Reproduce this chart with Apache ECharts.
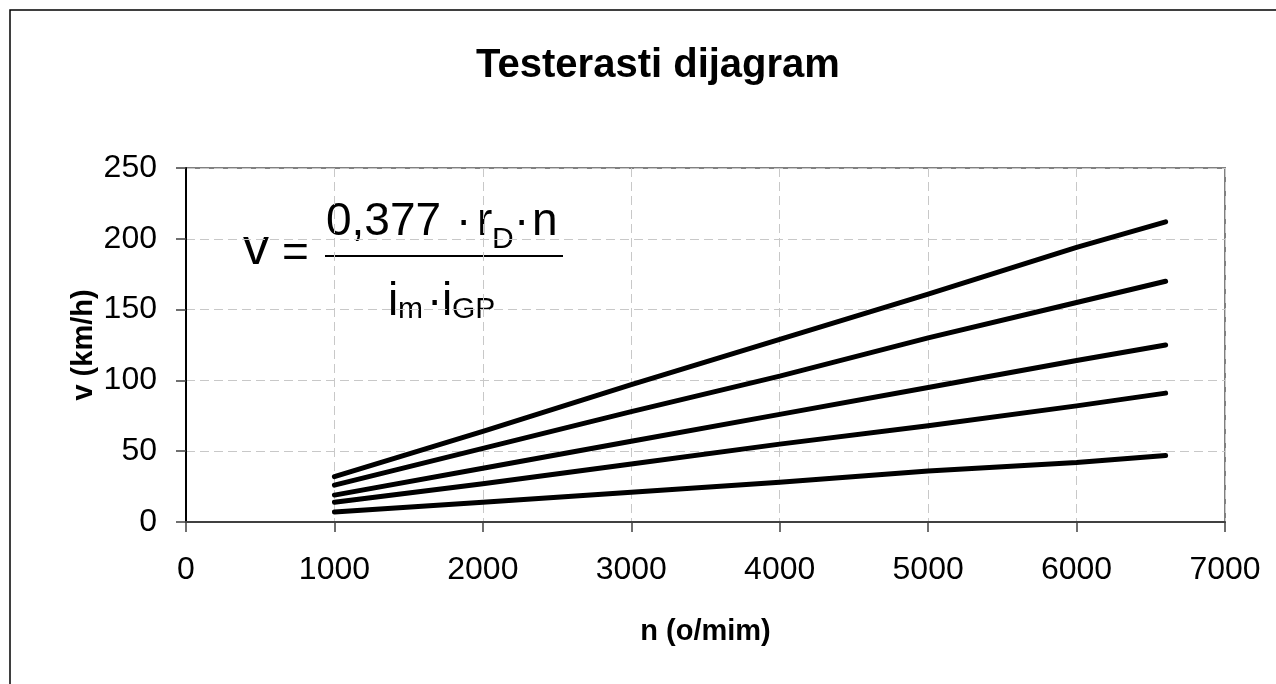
<!DOCTYPE html>
<html>
<head>
<meta charset="utf-8">
<title>Testerasti dijagram</title>
<script src="https://cdn.jsdelivr.net/npm/echarts@6/dist/echarts.min.js"></script>
<style>
  html, body { margin: 0; padding: 0; background: #fff; }
  #chart { width: 1276px; height: 684px; }
</style>
</head>
<body>
<div id="chart"></div>
<script>
// Engine speed n (o/min) at which the speeds were computed
const engineSpeed = [1000, 2000, 3000, 4000, 5000, 6000, 6600];

// Vehicle speed v (km/h) in each gear, highest gear first
const gear5 = [32, 64, 97, 129, 161, 194, 212];
const gear4 = [26, 52, 78, 103, 130, 155, 170];
const gear3 = [19, 38, 57, 76, 95, 114, 125];
const gear2 = [14, 27, 41, 55, 68, 82, 91];
const gear1 = [7, 14, 21, 28, 36, 42, 47];

const xTicks = { min: 0, max: 7000, interval: 1000 };
const yTicks = { min: 0, max: 250, interval: 50 };

const FONT = '"Liberation Sans", Arial, sans-serif';

function pairs(values) {
  return engineSpeed.map((n, i) => [n, values[i]]);
}

function gearSeries(name, values) {
  return {
    name: name,
    type: 'line',
    data: pairs(values),
    symbol: 'none',
    silent: true,
    lineStyle: { color: '#000', width: 5, cap: 'round', join: 'round' }
  };
}

const chart = echarts.init(document.getElementById('chart'), null, { renderer: 'canvas' });

const gridDash = { type: [9, 5], color: '#c8c8c8', width: 1 };

// Formula v = 0,377·rD·n / (im·iGP), built from text pieces placed on a baseline
const formulaFont = 46;
const subFont = 30;
function txt(text, x, baseline, size) {
  return {
    type: 'text',
    x: x,
    // 'bottom' alignment puts the box bottom ~0.15em under the baseline
    y: baseline + 0.15 * size,
    style: {
      text: text,
      font: size + 'px ' + FONT,
      fill: '#000',
      textAlign: 'left',
      textVerticalAlign: 'bottom'
    }
  };
}

chart.setOption({
  animation: false,
  backgroundColor: '#fff',
  title: {
    text: 'Testerasti dijagram',
    left: 653,
    top: 41,
    textAlign: 'center',
    textStyle: { fontFamily: FONT, fontWeight: 'bold', fontSize: 40, color: '#000' }
  },
  grid: {
    left: 186, right: 51, top: 168, bottom: 162,
    show: true,
    borderColor: '#808080',
    borderWidth: 2,
    backgroundColor: 'transparent'
  },
  xAxis: {
    type: 'value',
    min: xTicks.min, max: xTicks.max, interval: xTicks.interval,
    name: 'n (o/mim)',
    nameLocation: 'middle',
    nameGap: 95,
    nameMoveOverlap: false,
    nameTextStyle: { fontFamily: FONT, fontWeight: 'bold', fontSize: 29, color: '#000' },
    axisLine: { show: true, onZero: false, lineStyle: { color: '#404040', width: 2 } },
    axisTick: { show: true, inside: false, length: 10, lineStyle: { color: '#404040', width: 1.5 } },
    axisLabel: { fontFamily: FONT, fontSize: 32, color: '#000', margin: 32, formatter: v => String(v) },
    splitLine: { show: true, lineStyle: gridDash }
  },
  yAxis: {
    type: 'value',
    min: yTicks.min, max: yTicks.max, interval: yTicks.interval,
    name: 'v (km/h)',
    nameLocation: 'middle',
    nameRotate: 90,
    nameGap: 88,
    nameMoveOverlap: false,
    nameTextStyle: { fontFamily: FONT, fontWeight: 'bold', fontSize: 29, color: '#000' },
    axisLine: { show: true, onZero: false, lineStyle: { color: '#000', width: 2 } },
    axisTick: { show: true, inside: false, length: 10, lineStyle: { color: '#404040', width: 1.5 } },
    axisLabel: { fontFamily: FONT, fontSize: 32, color: '#000', margin: 29, formatter: v => String(v) },
    splitLine: { show: true, lineStyle: gridDash }
  },
  series: [
    gearSeries('5. stepen', gear5),
    gearSeries('4. stepen', gear4),
    gearSeries('3. stepen', gear3),
    gearSeries('2. stepen', gear2),
    gearSeries('1. stepen', gear1)
  ],
  graphic: [
    {
      type: 'rect',
      shape: { x: 10, y: 10, width: 1300, height: 700 },
      style: { fill: 'none', stroke: '#000', lineWidth: 1.5 },
      silent: true, z: 100
    },
    {
      type: 'group',
      z: 50,
      children: [
        txt('v', 243, 268, 52),
        txt('=', 282, 270, 46),
        txt('0,377', 326, 238, formulaFont),
        txt('\u00B7', 456, 238, formulaFont),
        txt('r', 477, 238, formulaFont),
        txt('D', 492, 250, subFont),
        txt('\u00B7', 514, 238, formulaFont),
        txt('n', 532, 238, formulaFont),
        {
          type: 'line',
          shape: { x1: 325, y1: 256, x2: 563, y2: 256 },
          style: { stroke: '#000', lineWidth: 2 }
        },
        txt('i', 388, 318, formulaFont),
        txt('m', 398, 320, subFont),
        txt('\u00B7', 427, 318, formulaFont),
        txt('i', 442, 318, formulaFont),
        txt('GP', 452, 320, subFont)
      ]
    }
  ]
});
</script>
</body>
</html>
